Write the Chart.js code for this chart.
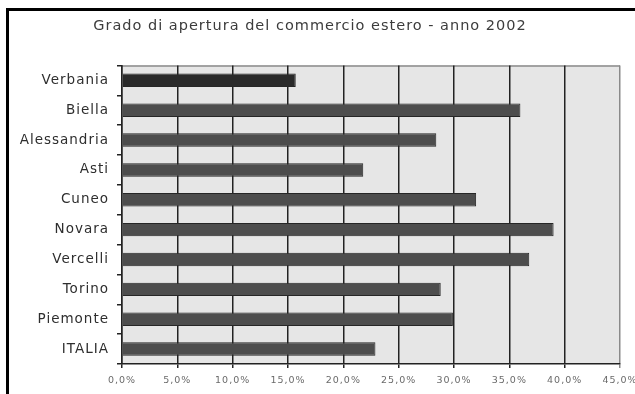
<!DOCTYPE html>
<html lang="it">
<head>
<meta charset="UTF-8" />
<title>Grado di apertura del commercio estero - anno 2002</title>
<script src="https://cdn.jsdelivr.net/npm/chart.js"></script>
<style>
	html, body {
		margin: 0;
		padding: 0;
		background: #ffffff;
		overflow: hidden;
	}

	.frame {
		position: absolute;
		left: 6px;
		top: 8px;
		width: 700px;
		height: 460px;
		border-top: 3px solid #000;
		border-left: 3px solid #000;
		pointer-events: none;
	}

	.chart-wrap {
		position: absolute;
		left: 0;
		top: 0;
		width: 635px;
		height: 394px;
	}
</style>
</head>
<body>
<div class="chart-wrap">
	<canvas id="aperturaChart" width="635" height="394"></canvas>
</div>
<div class="frame"></div>

<script>
	// Grado di apertura (%) per provincia, anno 2002
	const provinces = ['Verbania', 'Biella', 'Alessandria', 'Asti', 'Cuneo', 'Novara', 'Vercelli', 'Torino', 'Piemonte', 'ITALIA'];
	const opennessValues = [15.7, 36.0, 28.4, 21.8, 32.0, 39.0, 36.8, 28.8, 29.9, 22.9];
	const barColors = ['#2a2a2a', '#4d4d4d', '#4d4d4d', '#4d4d4d', '#4d4d4d', '#4d4d4d', '#4d4d4d', '#4d4d4d', '#4d4d4d', '#4d4d4d'];
	const axisMax = 45;
	const axisStep = 5;

	const FONT = '"DejaVu Sans", Verdana, sans-serif';
	const formatPercent = (value) => Number(value).toFixed(1).replace('.', ',') + '%';

	// slightly spaced-out lettering for all chart text
	const wideText = {
		id: 'wideText',
		beforeLayout(chart) {
			chart.ctx.letterSpacing = '1px';
		},
		beforeDraw(chart) {
			chart.ctx.letterSpacing = '1px';
		},
	};

	// grey plot background and thin grey frame behind the bars
	const plotBackground = {
		id: 'plotBackground',
		beforeDraw(chart) {
			const { ctx, chartArea } = chart;
			ctx.save();
			ctx.fillStyle = '#e6e6e6';
			ctx.fillRect(chartArea.left, chartArea.top, chartArea.right - chartArea.left, chartArea.bottom - chartArea.top);
			ctx.strokeStyle = '#8a8a8a';
			ctx.lineWidth = 1.5;
			ctx.beginPath();
			ctx.moveTo(chartArea.left, chartArea.top + 0.5);
			ctx.lineTo(chartArea.right, chartArea.top + 0.5);
			ctx.stroke();
			ctx.restore();
		},
	};

	new Chart(document.getElementById('aperturaChart'), {
		type: 'bar',
		data: {
			labels: provinces,
			datasets: [{
				data: opennessValues,
				backgroundColor: barColors,
				borderColor: '#262626',
				borderWidth: 1,
				categoryPercentage: 1,
				barPercentage: 0.45,
			}],
		},
		options: {
			indexAxis: 'y',
			responsive: false,
			animation: false,
			layout: {
				padding: { left: 0, right: 15, top: 0, bottom: 0 },
			},
			plugins: {
				legend: { display: false },
				tooltip: { enabled: false },
				title: {
					display: true,
					text: 'Grado di apertura del commercio estero - anno 2002',
					color: '#3c3c3c',
					font: { family: FONT, size: 14.5, weight: 'normal' },
					padding: { top: 18, bottom: 30 },
				},
			},
			scales: {
				x: {
					min: 0,
					max: axisMax,
					afterFit(scale) {
						// let the last tick label run off the edge instead of shrinking the plot
						scale.height = 30;
						scale.paddingLeft = 0;
						scale.paddingRight = 0;
					},
					ticks: {
						stepSize: axisStep,
						color: '#6a6a6a',
						padding: 7,
						font: { family: FONT, size: 9.5 },
						callback: (value) => formatPercent(value),
					},
					grid: {
						color: (ctx) => (ctx.tick && ctx.tick.value === axisMax ? '#8a8a8a' : '#222'),
						lineWidth: 1.5,
						tickLength: 4,
					},
					border: { color: '#222', width: 1.5 },
				},
				y: {
					afterFit(scale) {
						scale.width = 122;
					},
					ticks: {
						color: '#2e2e2e',
						padding: 8,
						font: { family: FONT, size: 13.5 },
					},
					grid: {
						drawOnChartArea: false,
						color: '#222',
						lineWidth: 1.5,
						tickLength: 5,
					},
					border: { color: '#222', width: 1.5 },
				},
			},
		},
		plugins: [wideText, plotBackground],
	});
</script>
</body>
</html>
